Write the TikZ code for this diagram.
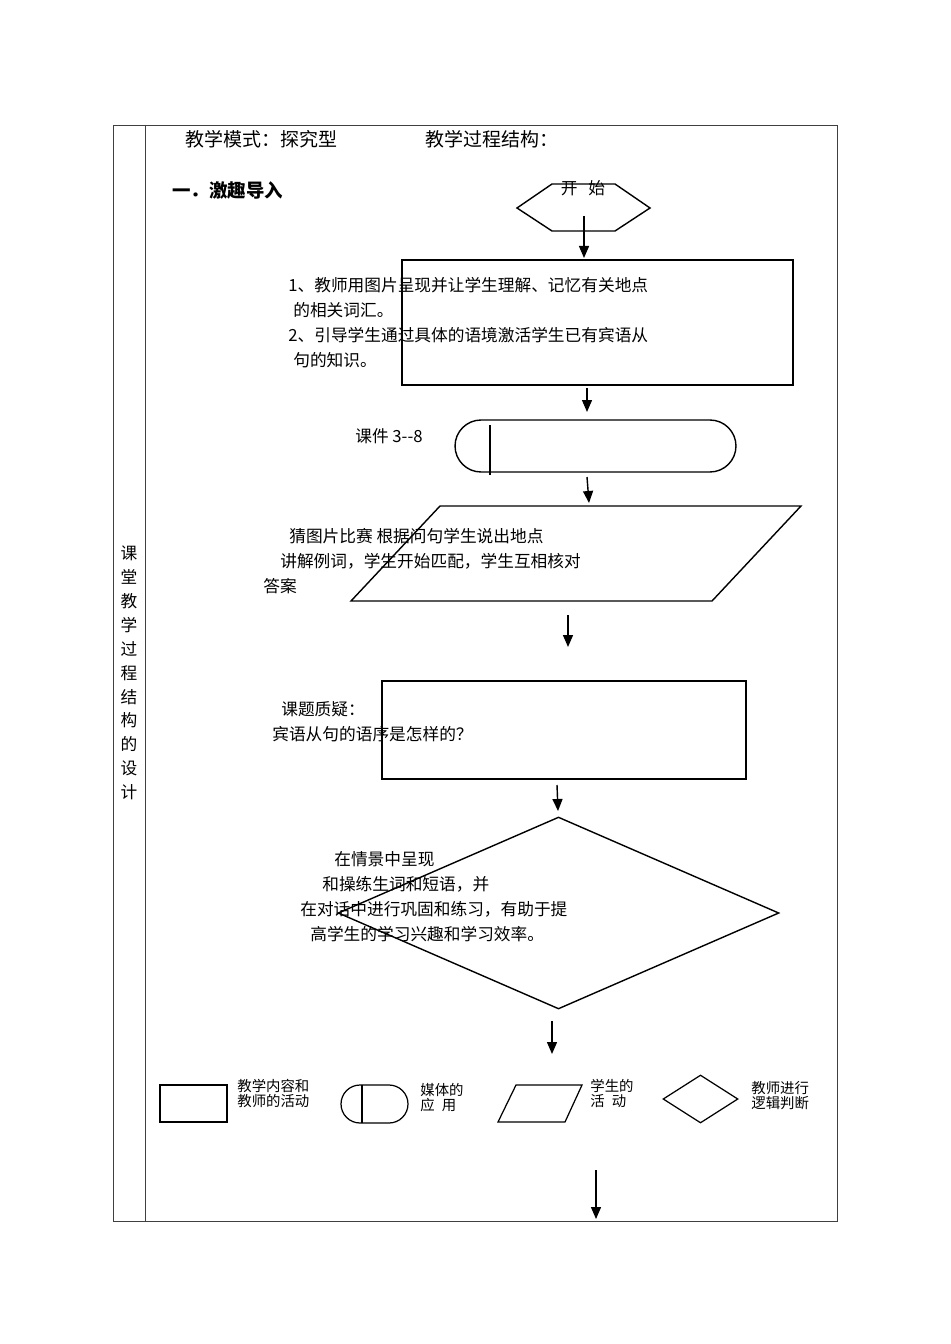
\documentclass[tikz,border=0pt]{standalone}
\usepackage{fontspec}
\setmainfont{Noto Sans CJK SC}
\usetikzlibrary{shapes.geometric,arrows.meta}

\begin{document}
\begin{tikzpicture}[
    x=0.02cm, y=-0.02cm,
    frame/.style={draw=black!75, line width=0.5pt},
    box/.style={rectangle, draw, line width=0.8pt, inner sep=0pt},
    judge/.style={diamond, draw, line width=0.8pt, inner sep=0pt},
    outline/.style={draw, line width=0.8pt},
    flow/.style={line width=0.8pt, -{Triangle[length=0.24cm, width=0.2cm]}},
    txt/.style={anchor=west, inner sep=0pt, align=left, font=\fontsize{9.5pt}{14.2pt}\selectfont},
    legtxt/.style={anchor=west, inner sep=0pt, align=left, font=\fontsize{8.2pt}{8.6pt}\selectfont}
]
    \useasboundingbox (0,0) rectangle (950,1344);

    % Table frame
    \draw[frame] (113,125) rectangle (837,1221);
    \draw[frame] (145,125) -- (145,1221);
    \node[inner sep=0pt, align=center, font=\fontsize{9.5pt}{13.6pt}\selectfont] (side-title) at (129,673)
        {课\\堂\\教\\学\\过\\程\\结\\构\\的\\设\\计};

    % Header
    \node[txt, font=\fontsize{10.8pt}{13pt}\selectfont] (mode-label) at (185,139) {教学模式：探究型};
    \node[txt, font=\fontsize{10.8pt}{13pt}\selectfont] (struct-label) at (425,139) {教学过程结构：};
    \node[txt, font=\bfseries\fontsize{10.5pt}{13pt}\selectfont] (part1-label) at (172,190) {一．激趣导入};

    % Start
    \draw[outline] (517,208) -- (552,184) -- (615,184) -- (650,208) -- (615,231) -- (552,231) -- cycle;
    \node[inner sep=0pt, font=\fontsize{9.5pt}{12pt}\selectfont] (start-label) at (583,188) {开\hspace{0.65em}始};

    % Step 1: teacher
    \node[box, minimum width=7.82cm, minimum height=2.5cm] (step1-box) at (597.5,322.5) {};
    \node[txt] (step1-text) at (288,323) {1、教师用图片呈现并让学生理解、记忆有关地点\\
        \hspace{0.1cm}的相关词汇。\\
        2、引导学生通过具体的语境激活学生已有宾语从\\
        \hspace{0.1cm}句的知识。};

    % Step 2: media
    \node[rectangle, draw, line width=0.8pt, rounded corners=0.52cm, minimum width=5.62cm, minimum height=1.04cm] (step2-box) at (595.5,446) {};
    \coordinate (step2-bar-top) at (490,425);
    \coordinate (step2-bar-end) at (490,475);
    \draw[line width=0.8pt] (step2-bar-top) -- (step2-bar-end);
    \node[txt] (step2-text) at (355,436) {课件 3-{}-8};

    % Step 3: students
    \draw[outline] (351,601) -- (440,506) -- (801,506) -- (712,601) -- cycle;
    \node[txt] (step3-text) at (263,561) {\hspace{0.52cm}猜图片比赛 根据问句学生说出地点\\
        \hspace{0.34cm}讲解例词，学生开始匹配，学生互相核对\\
        答案};

    % Step 4: question
    \node[box, minimum width=7.28cm, minimum height=1.96cm] (step4-box) at (564,730) {};
    \node[txt] (step4-text) at (272,722) {\hspace{0.18cm}课题质疑：\\宾语从句的语序是怎样的？};

    % Step 5: judgement
    \node[judge, minimum width=8.82cm, minimum height=3.84cm] (step5-box) at (558.5,913) {};
    \node[txt] (step5-text) at (300,897) {\hspace{0.68cm}在情景中呈现\\
        \hspace{0.44cm}和操练生词和短语，并\\
        在对话中进行巩固和练习，有助于提\\
        \hspace{0.2cm}高学生的学习兴趣和学习效率。};

    % Arrows
    \foreach \n/\xa/\ya/\xb/\yb in {1/584/216/584/258, 2/587/388/587/412, 3/587/477/589/503, 4/568/615/568/647,
                                    5/557/785/558/811, 6/552/1021/552/1054, 7/596/1170/596/1219} {
        \coordinate (arrow\n-from) at (\xa,\ya);
        \coordinate (arrow\n-to) at (\xb,\yb);
        \draw[flow] (arrow\n-from) -- (arrow\n-to);
    }

    % Legend
    \node[rectangle, draw, line width=0.7pt, minimum width=1.34cm, minimum height=0.74cm] (key-box) at (193.5,1103.5) {};
    \node[legtxt] (key-box-text) at (237,1093.5) {教学内容和\\教师的活动};
    \node[rectangle, draw, line width=0.7pt, rounded corners=0.38cm, minimum width=1.34cm, minimum height=0.76cm] (key-media) at (374.5,1104) {};
    \coordinate (key-media-top) at (362,1085);
    \coordinate (key-media-end) at (362,1123);
    \draw[line width=0.7pt] (key-media-top) -- (key-media-end);
    \node[legtxt] (key-media-text) at (420,1097.5) {媒体的\\应\hspace{0.5em}用};
    \draw[line width=0.7pt] (498,1122) -- (516,1085) -- (582,1085) -- (565,1122) -- cycle;
    \node[legtxt] (key-student-text) at (590,1093.5) {学生的\\活\hspace{0.5em}动};
    \node[diamond, draw, line width=0.7pt, inner sep=0pt, minimum width=1.5cm, minimum height=0.96cm] (key-judge) at (700.5,1099) {};
    \node[legtxt] (key-judge-text) at (751,1095.5) {教师进行\\逻辑判断};
\end{tikzpicture}
\end{document}
